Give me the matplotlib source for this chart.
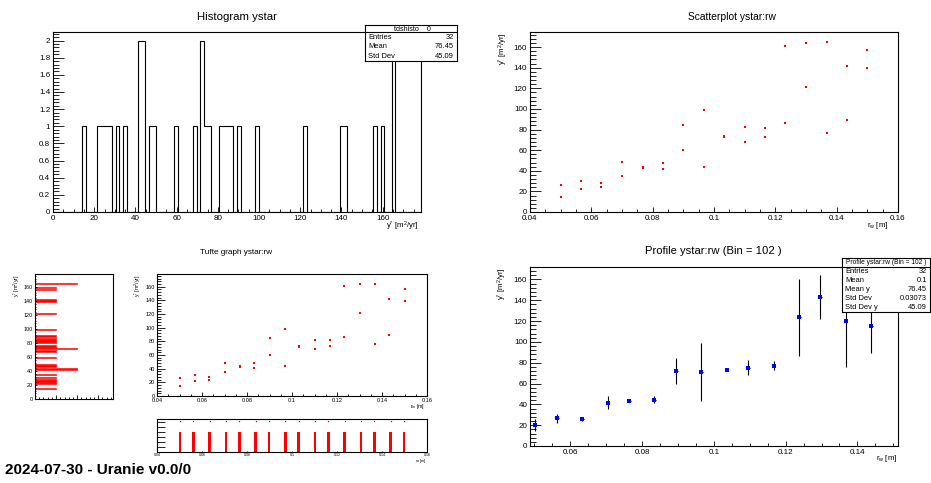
import numpy as np
import matplotlib
matplotlib.use('Agg')
import matplotlib.pyplot as plt
from matplotlib.ticker import MultipleLocator, AutoMinorLocator, FormatStrFormatter

plt.rcParams['font.family'] = ['Liberation Sans', 'DejaVu Sans']
plt.rcParams['mathtext.fontset'] = 'custom'
plt.rcParams['mathtext.rm'] = 'Liberation Sans'
plt.rcParams['mathtext.it'] = 'Liberation Sans:italic'

# data: two ystar values per rw
rw_values = [0.05, 0.0567, 0.0633, 0.07, 0.0767, 0.0833, 0.09, 0.0967,
             0.1033, 0.11, 0.1167, 0.1233, 0.13, 0.1367, 0.1433, 0.15]
ystar_hi = [26.3, 30.5, 28.2, 48.4, 43.8, 47.7, 84.2, 98.5,
            73.7, 82.5, 81.5, 160.7, 164.4, 164.6, 141.5, 157.1]
ystar_lo = [14.6, 22.4, 24.0, 35.1, 42.5, 41.3, 60.0, 43.2,
            72.4, 68.2, 72.7, 86.3, 121.7, 76.3, 89.6, 139.6]

hist_stats_labels = ['Entries', 'Mean', 'Std Dev']
hist_stats_values = ['32', '76.45', '45.09']
prof_stats_labels = ['Entries', 'Mean', 'Mean y', 'Std Dev', 'Std Dev y']
prof_stats_values = ['32', '0.1', '76.45', '0.03073', '45.09']

rw = np.array(rw_values + rw_values)
ystar = np.array(ystar_hi + ystar_lo)

ylab = r'y$^{*}$ [m$^{2}$/yr]'
xlab = r'r$_{\mathrm{w}}$ [m]'

W, H = 931, 483
fig = plt.figure(figsize=(W / 100, H / 100), dpi=100)


def px_axes(x0, y0, x1, y1):
    return fig.add_axes([x0 / W, 1 - y1 / H, (x1 - x0) / W, (y1 - y0) / H])


def root_style(ax, ytick_px, xtick_px, fs):
    ax.tick_params(which='both', direction='in', top=False, right=False,
                   labelsize=fs, pad=2, width=0.6)
    ax.tick_params(axis='y', which='major', length=ytick_px * 0.72)
    ax.tick_params(axis='y', which='minor', length=ytick_px * 0.36)
    ax.tick_params(axis='x', which='major', length=xtick_px * 0.72)
    ax.tick_params(axis='x', which='minor', length=xtick_px * 0.36)
    for s in ax.spines.values():
        s.set_linewidth(0.8)
    ax.xaxis.set_major_formatter(FormatStrFormatter('%g'))
    ax.yaxis.set_major_formatter(FormatStrFormatter('%g'))


def stats_box(x0, y0, x1, y1, head_y, header, labels, values, hfs, fs):
    b = px_axes(x0, y0, x1, y1)
    b.set_xlim(x0, x1)
    b.set_ylim(y1, y0)
    b.set_xticks([])
    b.set_yticks([])
    for s in b.spines.values():
        s.set_linewidth(0.8)
    b.axhline(head_y, color='black', lw=0.8)
    b.text((x0 + x1) / 2, (y0 + head_y) / 2 - 0.3, header, ha='center', va='center', fontsize=hfs)
    step = (y1 - head_y) / len(labels)
    for i, (lab, val) in enumerate(zip(labels, values)):
        yc = head_y + step * (i + 0.5)
        b.text(x0 + 3, yc, lab, ha='left', va='center', fontsize=fs)
        b.text(x1 - 3, yc, val, ha='right', va='center', fontsize=fs)


def title(x, y, s, fs):
    fig.text(x / W, 1 - y / H, s, ha='center', va='center', fontsize=fs)


def xlabel(xr, y, s, fs):
    fig.text(xr / W, 1 - y / H, s, ha='right', va='center', fontsize=fs)


def ylabel(x, ytop, s, fs):
    fig.text(x / W, 1 - ytop / H, s, ha='center', va='top', rotation=90, fontsize=fs)


# ---------------- histogram ----------------
hist_range = (0, 178.6)
hedges = np.linspace(hist_range[0], hist_range[1], 101)
ax1 = px_axes(53, 32, 421, 212)
ax1.hist(ystar, bins=hedges, histtype='step', color='black', lw=0.8)
ax1.set_xlim(*hist_range)
ax1.set_ylim(0, 2.1)
ax1.xaxis.set_major_locator(MultipleLocator(20))
ax1.xaxis.set_minor_locator(AutoMinorLocator(4))
ax1.yaxis.set_major_locator(MultipleLocator(0.2))
ax1.yaxis.set_minor_locator(AutoMinorLocator(5))
root_style(ax1, 11, 5.4, 5.8)
title(237, 17, 'Histogram ystar', 8.2)
xlabel(419, 226, ylab, 5.6)
stats_box(365, 25, 457, 61, 32.3, '_tdshisto__0', hist_stats_labels, hist_stats_values, 5.2, 5.4)

# ---------------- scatter ----------------
ax2 = px_axes(530, 32, 898, 212)
ax2.plot(rw, ystar, 's', color='red', ms=2.0, mew=0)
ax2.set_xlim(0.04, 0.16)
ax2.set_ylim(0, 174.6)
ax2.xaxis.set_major_locator(MultipleLocator(0.02))
ax2.xaxis.set_minor_locator(AutoMinorLocator(4))
ax2.yaxis.set_major_locator(MultipleLocator(20))
ax2.yaxis.set_minor_locator(AutoMinorLocator(5))
root_style(ax2, 11, 5.4, 5.8)
title(732, 17, 'Scatterplot ystar:rw', 7.4)
xlabel(888, 226, xlab, 5.6)
ylabel(503, 32, ylab, 5.6)

# ---------------- tufte graph ----------------
counts, _ = np.histogram(ystar, bins=hedges)
ax3l = px_axes(35, 274, 113, 399)
ax3l.barh(hedges[:-1], counts, height=np.diff(hedges), align='edge',
          color='red', edgecolor='red', lw=0.4)
ax3l.set_ylim(*hist_range)
ax3l.set_xlim(0, 3.7)
ax3l.xaxis.set_major_locator(MultipleLocator(1))
ax3l.xaxis.set_minor_locator(AutoMinorLocator(5))
ax3l.yaxis.set_major_locator(MultipleLocator(20))
ax3l.yaxis.set_minor_locator(AutoMinorLocator(5))
root_style(ax3l, 2.5, 3.7, 3.9)
ax3l.tick_params(axis='y', pad=1.5)
ax3l.tick_params(axis='x', labelbottom=False)
ylabel(17, 274, ylab, 3.8)

ax3 = px_axes(157, 274, 427, 396)
ax3.plot(rw, ystar, 's', color='red', ms=2.0, mew=0)
ax3.set_xlim(0.04, 0.16)
ax3.set_ylim(*hist_range)
ax3.xaxis.set_major_locator(MultipleLocator(0.02))
ax3.xaxis.set_minor_locator(AutoMinorLocator(4))
ax3.yaxis.set_major_locator(MultipleLocator(20))
ax3.yaxis.set_minor_locator(AutoMinorLocator(5))
root_style(ax3, 8, 3.7, 4.1)
ax3.tick_params(axis='both', pad=1.5)
title(236, 253, 'Tufte graph ystar:rw', 5.9)
xlabel(425, 406.5, xlab, 3.8)
ylabel(138, 274, ylab, 3.8)

xedges = np.linspace(0.04, 0.16, 101)
xcounts, _ = np.histogram(rw, bins=xedges)
ax3b = px_axes(157, 419, 427, 452)
ax3b.bar(xedges[:-1], xcounts, width=np.diff(xedges), align='edge', color='red', lw=0)
top = xcounts.max() / 0.6
nz = xcounts > 0
xcent = 0.5 * (xedges[:-1] + xedges[1:])
ax3b.plot(xcent[nz], np.full(nz.sum(), 0.95 * top), 's', color='red', ms=0.9, mew=0)
ax3b.set_xlim(0.04, 0.16)
ax3b.set_ylim(0, top)
ax3b.xaxis.set_major_locator(MultipleLocator(0.02))
ax3b.yaxis.set_major_locator(MultipleLocator(0.5))
root_style(ax3b, 8, 1.2, 2.6)
ax3b.tick_params(axis='y', labelleft=False)
ax3b.tick_params(axis='x', pad=1)
xlabel(427, 461, xlab, 2.8)

# ---------------- profile ----------------
pedges = np.linspace(0.0488, 0.1513, 103)
pcent = 0.5 * (pedges[:-1] + pedges[1:])
pw = pedges[1] - pedges[0]
bin_idx = np.digitize(rw, pedges) - 1
px, pm, ps = [], [], []
for b in np.unique(bin_idx):
    sel = ystar[bin_idx == b]
    px.append(pcent[b])
    pm.append(sel.mean())
    ps.append(sel.std())

ax4 = px_axes(530, 267, 898, 446)
ax4.errorbar(px, pm, yerr=ps, xerr=pw / 2, fmt='none', ecolor='black', elinewidth=0.8, capsize=0)
ax4.plot(px, pm, 's', color='blue', ms=2.6, mew=0)
ax4.set_xlim(pedges[0], pedges[-1])
ax4.set_ylim(0, 172)
ax4.xaxis.set_major_locator(MultipleLocator(0.02))
ax4.xaxis.set_minor_locator(AutoMinorLocator(4))
ax4.yaxis.set_major_locator(MultipleLocator(20))
ax4.yaxis.set_minor_locator(AutoMinorLocator(5))
root_style(ax4, 11, 5.4, 5.8)
title(713, 251, 'Profile ystar:rw (Bin = 102 )', 8.1)
xlabel(897, 459, xlab, 5.6)
ylabel(502, 267, ylab, 5.6)
stats_box(842, 258, 930, 312, 266.7, 'Profile ystar:rw (Bin = 102 )',
          prof_stats_labels, prof_stats_values, 4.8, 5.4)

fig.text(5 / W, 1 - 474 / H, '2024-07-30 - Uranie v0.0/0', fontsize=11,
         fontweight='bold', va='baseline', ha='left')

fig.savefig('out.png', dpi=100)
